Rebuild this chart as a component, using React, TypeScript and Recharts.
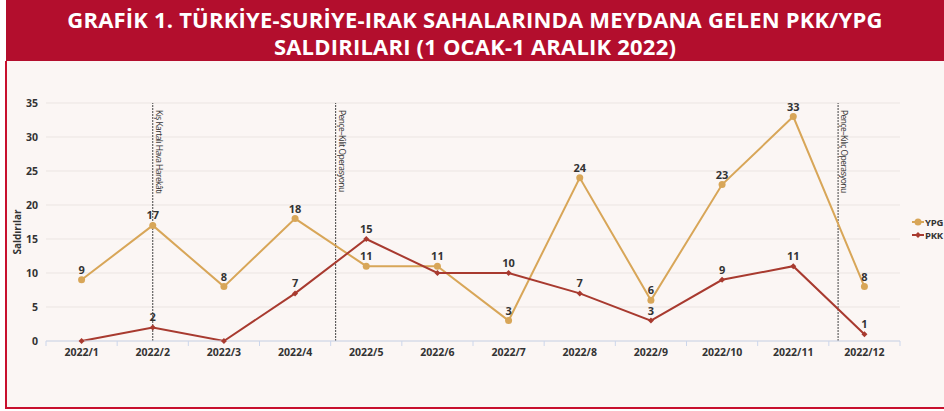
import React from "react";
import {
  LineChart,
  Line,
  XAxis,
  YAxis,
  CartesianGrid,
  ReferenceLine,
  LabelList,
} from "recharts";

const months = [
  "2022/1", "2022/2", "2022/3", "2022/4", "2022/5", "2022/6",
  "2022/7", "2022/8", "2022/9", "2022/10", "2022/11", "2022/12",
];
const ypgValues = [9, 17, 8, 18, 11, 11, 3, 24, 6, 23, 33, 8];
const pkkValues = [0, 2, 0, 7, 15, 10, 10, 7, 3, 9, 11, 1];
const pkkShownLabels = [null, 2, null, 7, 15, null, 10, 7, 3, 9, 11, 1];
const yTicks = [0, 5, 10, 15, 20, 25, 30, 35];
const annotations = [
  { x: 2, text: "Kış Kartalı Hava Harekâtı" },
  { x: 4.57, text: "Pençe–Kilit Operasyonu" },
  { x: 11.63, text: "Pençe–Kılıç Operasyonu" },
];

const TITLE_1 = "GRAFİK 1. TÜRKİYE-SURİYE-IRAK SAHALARINDA MEYDANA GELEN PKK/YPG";
const TITLE_2 = "SALDIRILARI (1 OCAK-1 ARALIK 2022)";

const YPG_COLOR = "#d8a658";
const PKK_COLOR = "#a83a2f";
const FONT = "'Open Sans', 'Noto Sans', sans-serif";

const data = months.map((m, i) => ({
  x: i + 1,
  month: m,
  ypg: ypgValues[i],
  pkk: pkkValues[i],
  pkkLabel: pkkShownLabels[i],
}));

// tick positions: category centres (labels) and band boundaries (tick marks)
const xTicks: number[] = [];
for (let i = 0; i <= months.length * 2; i++) xTicks.push(0.5 + i * 0.5);

const XTick = (props: any) => {
  const { x, y, payload } = props;
  const v = payload.value as number;
  if (Number.isInteger(v)) {
    return (
      <text
        x={x}
        y={y + 15}
        textAnchor="middle"
        fontSize={10.5}
        fontWeight={700}
        fill="#333"
        fontFamily={FONT}
      >
        {months[v - 1]}
      </text>
    );
  }
  return <line x1={x} x2={x} y1={y} y2={y + 5} stroke="#ccd6eb" strokeWidth={1} />;
};

const DiamondDot = (props: any) => {
  const { cx, cy } = props;
  if (cx == null || cy == null) return null;
  const r = 3;
  return (
    <path
      d={`M${cx},${cy - r}L${cx + r},${cy}L${cx},${cy + r}L${cx - r},${cy}Z`}
      fill={PKK_COLOR}
    />
  );
};

const makeRefLabel = (text: string) => (props: any) => {
  const vb = props.viewBox || {};
  const lx = vb.x + 3;
  const ly = vb.y + 7;
  return (
    <text
      x={lx}
      y={ly}
      transform={`rotate(90 ${lx} ${ly})`}
      fontSize={8.5}
      letterSpacing={-0.55}
      fill="#333"
      fontFamily={FONT}
      textAnchor="start"
    >
      {text}
    </text>
  );
};

const YTitle = (props: any) => {
  const vb = props.viewBox || {};
  const lx = vb.x + 15;
  const ly = vb.y + vb.height / 2 + 10;
  return (
    <text
      x={lx}
      y={ly}
      transform={`rotate(-90 ${lx} ${ly})`}
      textAnchor="middle"
      fontSize={10}
      fontWeight={700}
      fill="#333"
      fontFamily={FONT}
    >
      Saldırılar
    </text>
  );
};

const labelStyle = {
  fontSize: 11,
  fontWeight: 700,
  fill: "#333",
  fontFamily: FONT,
};

export default function App() {
  return (
    <div
      style={{
        position: "absolute",
        left: 0,
        top: 0,
        width: 944,
        height: 411,
        background: "#ffffff",
        overflow: "hidden",
        fontFamily: FONT,
      }}
    >
      <div
        style={{
          position: "absolute",
          left: 6,
          top: 0,
          width: 938,
          height: 61,
          background: "#b30e2d",
          color: "#ffffff",
          textAlign: "center",
          fontWeight: 700,
          fontSize: 22,
          lineHeight: "27px",
          paddingTop: 6,
          boxSizing: "border-box",
          letterSpacing: 0.2,
          whiteSpace: "nowrap",
        }}
      >
        <div>{TITLE_1}</div>
        <div>{TITLE_2}</div>
      </div>
      <div
        style={{
          position: "absolute",
          left: 5,
          top: 61,
          width: 939,
          height: 348,
          background: "#fbf6f4",
          borderLeft: "2px solid #c8102e",
          borderBottom: "2px solid #c8102e",
          boxSizing: "border-box",
        }}
      />
      <div style={{ position: "absolute", left: 0, top: 61 }}>
        <LineChart
          width={944}
          height={347}
          data={data}
          margin={{ top: 42, right: 44, bottom: 37, left: 6 }}
        >
          <CartesianGrid vertical={false} stroke="#ebe5e2" />
          <XAxis
            type="number"
            dataKey="x"
            domain={[0.5, 12.5]}
            ticks={xTicks}
            interval={0}
            tickLine={false}
            tickSize={0}
            tickMargin={0}
            height={30}
            axisLine={{ stroke: "#ccd6eb" }}
            tick={<XTick />}
          />
          <YAxis
            domain={[0, 35]}
            ticks={yTicks}
            width={40}
            axisLine={false}
            tickLine={false}
            tick={{ fontSize: 10.5, fontWeight: 700, fill: "#333", fontFamily: FONT }}
            label={<YTitle />}
          />
          {annotations.map((a) => (
            <ReferenceLine
              key={a.text}
              x={a.x}
              stroke="#444"
              strokeWidth={1}
              strokeDasharray="2 1"
              label={makeRefLabel(a.text)}
            />
          ))}
          <Line
            type="linear"
            dataKey="ypg"
            name="YPG"
            stroke={YPG_COLOR}
            strokeWidth={2}
            dot={{ r: 3.5, fill: YPG_COLOR, stroke: YPG_COLOR, strokeWidth: 0 }}
            activeDot={false}
            isAnimationActive={false}
          >
            <LabelList dataKey="ypg" position="top" offset={6} style={labelStyle} />
          </Line>
          <Line
            type="linear"
            dataKey="pkk"
            name="PKK"
            stroke={PKK_COLOR}
            strokeWidth={2}
            dot={<DiamondDot />}
            activeDot={false}
            isAnimationActive={false}
          >
            <LabelList
              dataKey="pkkLabel"
              position="top"
              offset={6}
              style={labelStyle}
              formatter={(v: any) => (v == null ? "" : v)}
            />
          </Line>
        </LineChart>
      </div>
      {[
        { name: "YPG", color: YPG_COLOR, top: 216, round: true },
        { name: "PKK", color: PKK_COLOR, top: 229, round: false },
      ].map((l) => (
        <div
          key={l.name}
          style={{
            position: "absolute",
            left: 912,
            top: l.top,
            height: 12,
            display: "flex",
            alignItems: "center",
            fontSize: 9.5,
            fontWeight: 700,
            color: "#333",
            whiteSpace: "nowrap",
            letterSpacing: -0.2,
          }}
        >
          <svg width={12} height={12} style={{ marginRight: 1 }}>
            <line x1={0} x2={12} y1={6} y2={6} stroke={l.color} strokeWidth={2} />
            {l.round ? (
              <circle cx={6} cy={6} r={3.5} fill={l.color} />
            ) : (
              <path d="M6,3L9,6L6,9L3,6Z" fill={l.color} />
            )}
          </svg>
          {l.name}
        </div>
      ))}
    </div>
  );
}
